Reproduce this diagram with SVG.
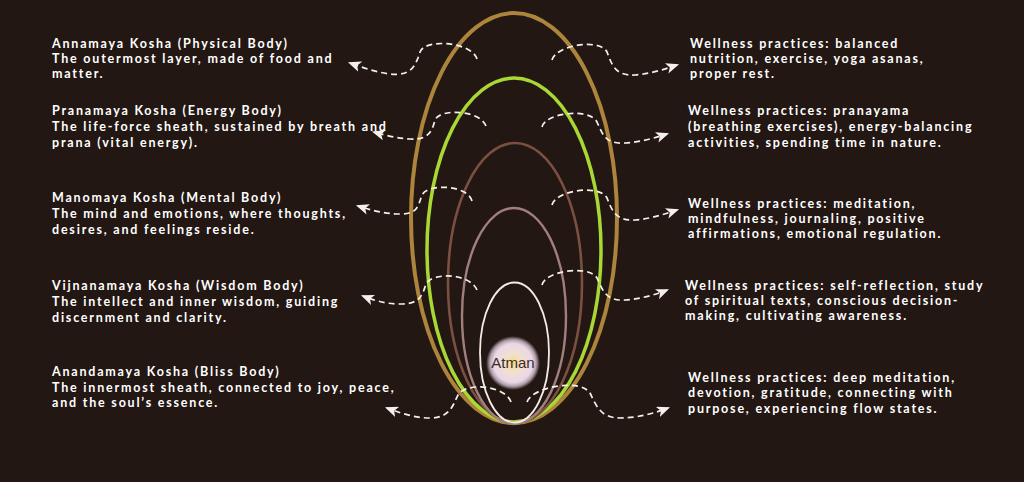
<svg xmlns="http://www.w3.org/2000/svg" width="1024" height="482" viewBox="0 0 1024 482">
<defs>
<style>
.t{font-family:Lato,"Noto Sans",sans-serif;font-weight:700;font-size:12.5px;letter-spacing:1.8px;fill:#ffffff}
.c{fill:none;stroke:#f4f0ec;stroke-width:1.7;stroke-dasharray:6 4;marker-end:url(#ah)}
.sh{fill:none}
</style>
<marker id="ah" viewBox="0 0 12 10" refX="10" refY="5" markerWidth="13" markerHeight="11" markerUnits="userSpaceOnUse" orient="auto">
<path d="M0,0 L12,5 L0,10 L3,5 Z" fill="#f4f0ec"/>
</marker>
<radialGradient id="glow" cx="0.5" cy="0.5" r="0.5">
<stop offset="0" stop-color="#f7dc7e"/>
<stop offset="0.35" stop-color="#f1e0d2"/>
<stop offset="0.72" stop-color="#e9d7e6"/>
<stop offset="0.86" stop-color="#e2cfe0" stop-opacity="0.75"/>
<stop offset="1" stop-color="#e2cfe0" stop-opacity="0"/>
</radialGradient>
</defs>
<rect width="1024" height="482" fill="#231713"/>
<g id="sheaths">
<ellipse id="annamaya-shape" class="sh" cx="514" cy="218" rx="103" ry="205" stroke="#ac843b" stroke-width="4"/>
<ellipse id="pranamaya-shape" class="sh" cx="514" cy="250" rx="87" ry="172" stroke="#a9d734" stroke-width="3.5"/>
<ellipse id="manomaya-shape" class="sh" cx="515" cy="283" rx="67" ry="140" stroke="#7b5040" stroke-width="2.6"/>
<ellipse id="vijnanamaya-shape" class="sh" cx="514" cy="316" rx="52" ry="108" stroke="#a07f7c" stroke-width="2.4"/>
<ellipse id="anandamaya-shape" class="sh" cx="514.5" cy="352.5" rx="34.5" ry="70" stroke="#f2ebe6" stroke-width="1.8"/>
</g>
<g id="atman">
<circle cx="513" cy="363" r="27" fill="url(#glow)"/>
<text x="513" y="368" text-anchor="middle" font-family="'Liberation Sans',Arial,sans-serif" font-size="15" fill="#3b2a2c">Atman</text>
</g>
<g id="connectors">
<path class="c" d="M477 59 C472 42 425 38 420 52 C415 68 410 76 390 74 C375 72 361 67 350 63"/>
<path class="c" d="M486 126 C480 110 440 108 435 120 C432 132 428 140 410 139 C395 138 384 135 374 132"/>
<path class="c" d="M472 201 C468 185 428 183 422 195 C418 206 418 214 400 214 C385 214 370 210 358 206"/>
<path class="c" d="M477 290 C470 273 432 272 426 284 C422 296 420 304 400 304 C385 304 373 300 363 296"/>
<path class="c" d="M511 402 C505 385 465 382 458 395 C453 405 450 418 430 418 C415 418 400 413 387 408"/>
<path class="c" d="M552 60 C556 45 600 38 607 52 C612 65 615 76 635 75 C650 74 665 69 677 65"/>
<path class="c" d="M542 127 C546 112 590 108 597 122 C603 135 605 144 625 143 C640 142 655 138 667 134"/>
<path class="c" d="M552 205 C556 190 600 184 607 198 C612 210 615 221 635 220 C650 219 665 214 677 210"/>
<path class="c" d="M542 285 C546 270 590 265 597 278 C603 291 606 301 625 300 C640 299 655 295 667 290"/>
<path class="c" d="M527 402 C532 387 580 378 590 393 C596 405 600 418 620 418 C638 418 655 413 668 408"/>
</g>
<g id="annamaya">
<text class="t" x="52" y="48">Annamaya Kosha (Physical Body)</text>
<text class="t" x="52" y="63">The outermost layer, made of food and</text>
<text class="t" x="52" y="78">matter.</text>
</g>
<g id="pranamaya">
<text class="t" x="52" y="115">Pranamaya Kosha (Energy Body)</text>
<text class="t" x="52" y="131">The life-force sheath, sustained by breath and</text>
<text class="t" x="52" y="147">prana (vital energy).</text>
</g>
<g id="manomaya">
<text class="t" x="52" y="202">Manomaya Kosha (Mental Body)</text>
<text class="t" x="52" y="218">The mind and emotions, where thoughts,</text>
<text class="t" x="52" y="234">desires, and feelings reside.</text>
</g>
<g id="vijnanamaya">
<text class="t" x="52" y="290">Vijnanamaya Kosha (Wisdom Body)</text>
<text class="t" x="52" y="306">The intellect and inner wisdom, guiding</text>
<text class="t" x="52" y="322">discernment and clarity.</text>
</g>
<g id="anandamaya">
<text class="t" x="52" y="376">Anandamaya Kosha (Bliss Body)</text>
<text class="t" x="52" y="392">The innermost sheath, connected to joy, peace,</text>
<text class="t" x="52" y="407">and the soul’s essence.</text>
</g>
<g id="wellness-1">
<text class="t" x="690" y="48">Wellness practices: balanced</text>
<text class="t" x="690" y="63">nutrition, exercise, yoga asanas,</text>
<text class="t" x="690" y="78">proper rest.</text>
</g>
<g id="wellness-2">
<text class="t" x="688" y="115">Wellness practices: pranayama</text>
<text class="t" x="688" y="131">(breathing exercises), energy-balancing</text>
<text class="t" x="688" y="147">activities, spending time in nature.</text>
</g>
<g id="wellness-3">
<text class="t" x="688" y="208">Wellness practices: meditation,</text>
<text class="t" x="688" y="223">mindfulness, journaling, positive</text>
<text class="t" x="688" y="238">affirmations, emotional regulation.</text>
</g>
<g id="wellness-4">
<text class="t" x="685" y="290">Wellness practices: self-reflection, study</text>
<text class="t" x="685" y="305">of spiritual texts, conscious decision-</text>
<text class="t" x="685" y="320">making, cultivating awareness.</text>
</g>
<g id="wellness-5">
<text class="t" x="688" y="382">Wellness practices: deep meditation,</text>
<text class="t" x="688" y="397">devotion, gratitude, connecting with</text>
<text class="t" x="688" y="413">purpose, experiencing flow states.</text>
</g>
</svg>
